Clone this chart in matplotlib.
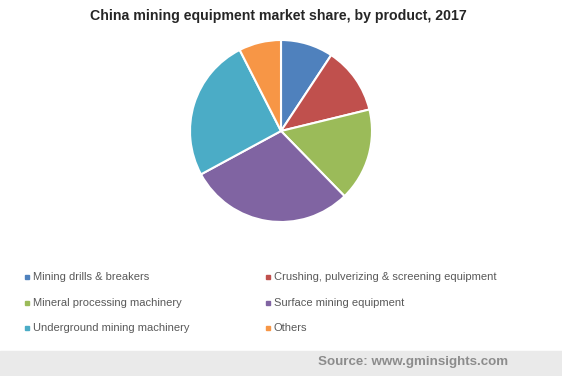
import matplotlib
matplotlib.use("Agg")
import matplotlib.pyplot as plt
from matplotlib.patches import Rectangle

W, H = 562, 376

# ---------------------------------------------------------------------
# Data
# ---------------------------------------------------------------------
products = [
    "Mining drills & breakers",
    "Crushing, pulverizing & screening equipment",
    "Mineral processing machinery",
    "Surface mining equipment",
    "Underground mining machinery",
    "Others",
]
shares = [9.3, 11.9, 16.5, 29.4, 25.4, 7.5]
colors = ["#4F81BD", "#C0504D", "#9BBB59", "#8064A2", "#4BACC6", "#F79646"]

plt.rcParams["font.family"] = ["Liberation Sans", "DejaVu Sans"]

fig = plt.figure(figsize=(W / 100, H / 100), dpi=100)

# pie, centre (281, 131) px, radius 91 px
cx, cy, r = 281, 131, 91
ax = fig.add_axes([(cx - r) / W, (H - cy - r) / H, 2 * r / W, 2 * r / H])
ax.pie(shares, colors=colors, startangle=90, counterclock=False,
       wedgeprops=dict(edgecolor="white", linewidth=1.5))
ax.set_xlim(-1, 1)
ax.set_ylim(-1, 1)
ax.set_aspect("equal")
ax.axis("off")

fig.text(278 / W, 1 - 16 / H, "China mining equipment market share, by product, 2017",
         ha="center", va="center", fontsize=10.2, fontweight="bold", color="#262626")

# legend, two columns
col_x = [27, 268]
row_y = [277, 303, 328]
for i, (name, col) in enumerate(zip(products, colors)):
    x = col_x[i % 2]
    y = row_y[i // 2]
    fig.patches.append(Rectangle(((x - 2) / W, 1 - (y + 2) / H), 4 / W, 4 / H,
                                 transform=fig.transFigure, color=col))
    fig.text((x + 6) / W, 1 - y / H, name, ha="left", va="center",
             fontsize=8, color="#595959")

# footer band
fig.patches.append(Rectangle((0, 0), 1, 25 / H, transform=fig.transFigure,
                             color="#EAEAEA", zorder=0))
fig.text(508 / W, 1 - 362 / H, "Source: www.gminsights.com", ha="right", va="center",
         fontsize=9.65, fontweight="bold", color="#8C8C8C")

fig.savefig("out.png", dpi=100)
